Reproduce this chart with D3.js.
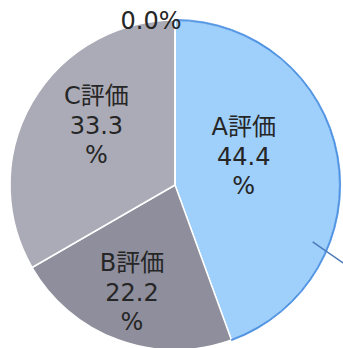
<!DOCTYPE html>
<html><head><meta charset="utf-8">
<script src="https://cdn.jsdelivr.net/npm/d3@7"></script>
<style>html,body{margin:0;padding:0;background:#fff;overflow:hidden}</style>
</head><body>
<svg id="c" width="343" height="348"></svg>
<script>
const categories = ["A評価", "B評価", "C評価", "D評価"];
const values = [44.4, 22.2, 33.3, 0.0];
const colors = ["#9fcffb", "#8e8e9c", "#ababb7", "#d0d0d8"];

const W = 343, H = 348, cx = 175, cy = 185, R = 165;
const svg = d3.select("#c");
const g = svg.append("g").attr("transform", `translate(${cx},${cy})`);

const pie = d3.pie().sort(null).value(d => d);
const arcs = pie(values);
const arc = d3.arc().innerRadius(0).outerRadius(R);

g.selectAll("path.slice").data(arcs).enter().append("path")
  .attr("class", "slice")
  .attr("d", arc)
  .attr("fill", (d, i) => colors[i])
  .attr("stroke", "#fff").attr("stroke-width", 1.5);

// blue outer edge on A slice
const outerArc = d3.arc().innerRadius(R - 0.6).outerRadius(R + 0.6);
g.append("path").attr("d", outerArc(arcs[0])).attr("fill", "#4a90e2").attr("stroke", "#4a90e2").attr("stroke-width", 0.8);

// leader line
const a0 = arcs[0];
const mid0 = (a0.startAngle + a0.endAngle) / 2;
const s1 = mid0 + 0.567, s2 = mid0 + 0.61;
g.append("line")
  .attr("x1", Math.sin(s1) * (R - 16)).attr("y1", -Math.cos(s1) * (R - 16))
  .attr("x2", Math.sin(s2) * (R + 22)).attr("y2", -Math.cos(s2) * (R + 22))
  .attr("stroke", "#4a7ab8").attr("stroke-width", 1.5);

// labels
const labelArc = d3.arc().innerRadius(R * 0.62).outerRadius(R * 0.62);
const adj = [[-32, -11], [-8, 11], [10, -9], [-24, -62]];
arcs.forEach((d, i) => {
  const [x, y] = labelArc.centroid(d);
  const tx = x + adj[i][0], ty = y + adj[i][1];
  const pct = values[i].toFixed(1);
  const lines = i === 3 ? [pct + "%"] : [categories[i], pct, "%"];
  const t = g.append("text")
    .attr("text-anchor", "middle")
    .attr("font-family", "'DejaVu Sans', 'Noto Sans CJK JP', sans-serif")
    .attr("font-size", 24)
    .attr("fill", "#262626");
  const lh = 29.5;
  lines.forEach((s, k) => {
    t.append("tspan").attr("x", tx)
      .attr("y", ty + (k - (lines.length - 1) / 2) * lh)
      .attr("dy", "0.36em").text(s);
  });
});
</script>
</body></html>
